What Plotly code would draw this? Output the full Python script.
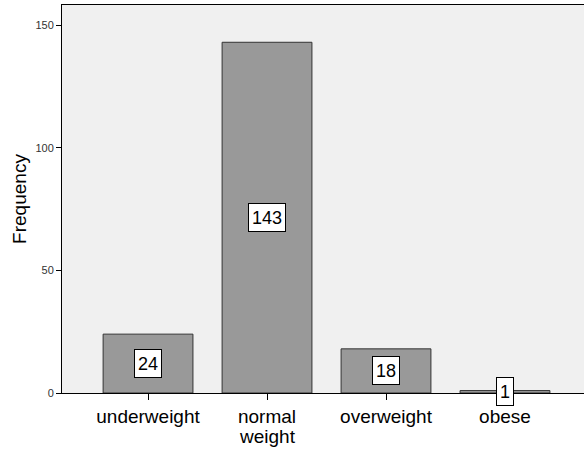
import plotly.graph_objects as go

categories = ["underweight", "normal<br>weight", "overweight", "obese"]
frequencies = [24, 143, 18, 1]
y_ticks = [0, 50, 100, 150]

first_lines = [c.split("<br>")[0] for c in categories]

fig = go.Figure()
fig.add_trace(go.Bar(
    x=list(range(len(categories))),
    y=frequencies,
    width=0.755,
    marker=dict(color="#999999", line=dict(color="#333333", width=1)),
    hoverinfo="skip",
))

for i, v in enumerate(frequencies):
    txt = str(v)
    fig.add_annotation(
        x=i, y=v / 2, text=txt, showarrow=False,
        font=dict(family="Liberation Sans, Arial", size=18, color="black"),
        bgcolor="white", bordercolor="black", borderwidth=1, borderpad=1,
        width=10 * len(txt) + 4, height=25,
    )

# extra lines of wrapped category labels (tighter line spacing than plotly's default)
for i, c in enumerate(categories):
    for k, line in enumerate(c.split("<br>")[1:], start=1):
        fig.add_annotation(
            x=i, xref="x", y=0, yref="paper", yanchor="middle",
            yshift=-23 - 20 * k, text=line, showarrow=False,
            font=dict(family="Liberation Sans, Arial", size=19, color="black"),
        )

fig.update_layout(
    width=584, height=449,
    margin=dict(l=62, r=0, t=5, b=56),
    paper_bgcolor="white",
    plot_bgcolor="#f0f0f0",
    showlegend=False,
    font=dict(family="Liberation Sans, Arial", color="black"),
    xaxis=dict(
        automargin=False,
        range=[-0.723, 3.664],
        tickmode="array", tickvals=list(range(len(categories))), ticktext=first_lines,
        ticks="outside", ticklen=6, tickcolor="black",
        tickfont=dict(size=19, color="black"),
        showline=True, linecolor="black", linewidth=1, mirror=True,
        showgrid=False, zeroline=False,
    ),
    yaxis=dict(
        automargin=False,
        range=[0, 158.2],
        tickmode="array", tickvals=y_ticks,
        ticks="outside", ticklen=5, tickcolor="black",
        tickfont=dict(size=11, color="#333333"),
        showline=True, linecolor="black", linewidth=1, mirror=True,
        showgrid=False, zeroline=False,
        title=dict(text="Frequency", font=dict(size=19, color="black"), standoff=3),
    ),
)

fig.write_html(
    "out.html",
    config={"displayModeBar": False},
    post_script="document.body.style.margin='0';document.body.style.overflow='hidden';",
)
